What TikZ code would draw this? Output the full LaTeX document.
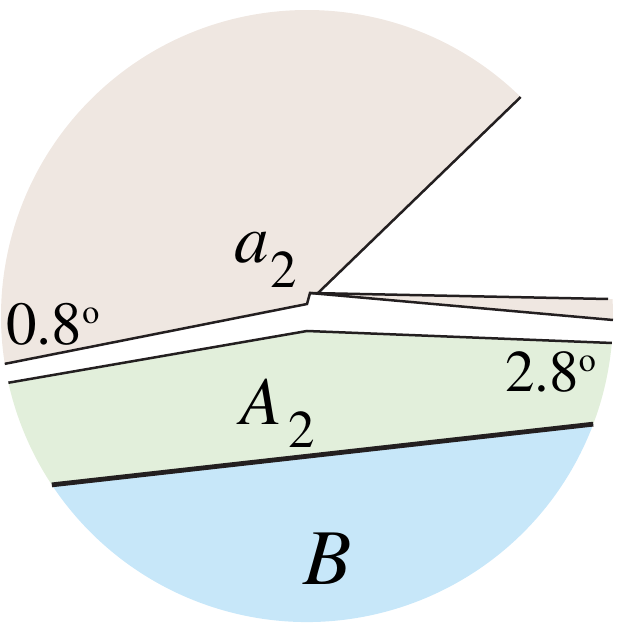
\documentclass[tikz,border=0pt]{standalone}
\usepackage[T1]{fontenc}
\renewcommand{\rmdefault}{ptm}
\definecolor{beigef}{RGB}{239,231,225}
\definecolor{greenf}{RGB}{226,239,219}
\definecolor{bluef}{RGB}{199,231,249}
\definecolor{linec}{RGB}{35,31,32}
\tikzset{
  thinline/.style={draw=linec, line width=2.5pt},
  boldline/.style={draw=linec, line width=4.8pt},
  lbl/.style={inner sep=0pt, anchor=base west, text=black},
}
\newcommand{\degsup}[1]{\raisebox{#1}{\fontsize{34}{34}\selectfont o}}
\begin{document}
\begin{tikzpicture}[x=1pt,y=1pt]
\useasboundingbox (0,0) rectangle (623,623);
% key points (circle centre (307,307), radius 306)
\coordinate (D)  at ([shift={(307,307)}]45.7:306);
\coordinate (L1) at ([shift={(307,307)}]189:306);
\coordinate (V1) at (307,319);
\coordinate (S)  at (310,330);
\coordinate (X)  at (318,330);
\coordinate (U)  at (608,324);
\coordinate (Uc) at ([shift={(307,307)}]3.17:306);
\coordinate (Lo) at ([shift={(307,307)}]-0.75:306);
\coordinate (G1) at ([shift={(307,307)}]192.6:306);
\coordinate (GV) at (307,292);
\coordinate (G2) at ([shift={(307,307)}]-5.06:306);
\coordinate (Br) at ([shift={(307,307)}]-20.7:306);
\coordinate (Bl) at ([shift={(307,307)}]213.5:306);
% fills
\fill[beigef] (L1) -- (V1) -- (S) -- (X) -- (D) arc[start angle=45.7, end angle=189, radius=306] -- cycle;
\fill[beigef] (S) -- (Uc) arc[start angle=3.17, end angle=-0.75, radius=306] -- cycle;
\fill[greenf] (G1) -- (GV) -- (G2) arc[start angle=-5.06, end angle=-20.7, radius=306] -- (Bl) arc[start angle=213.5, end angle=192.6, radius=306] -- cycle;
\fill[bluef] (Bl) -- (Br) arc[start angle=-20.7, end angle=-146.5, radius=306] -- cycle;
% lines
\draw[thinline, line join=miter] (L1) -- (V1) -- (S) -- (U);
\draw[thinline] (X) -- (D);
\draw[thinline] (S) -- (Lo);
\draw[thinline, line join=miter] (G1) -- (GV) -- (G2);
\draw[boldline] (Bl) -- (Br);
% labels
\node[lbl] (la) at (234,360) {\fontsize{69}{69}\selectfont\textit{a}\kern2pt\raisebox{-25pt}{\fontsize{53}{53}\selectfont 2}};
\node[lbl] (lA) at (240,198) {\fontsize{68}{68}\selectfont\textit{A}\kern7pt\raisebox{-23pt}{\fontsize{53}{53}\selectfont 2}};
\node[lbl] (lB) at (303,38) {\fontsize{79}{79}\selectfont\textit{B}};
\node[lbl] (l08) at (6,278) {\fontsize{61}{61}\selectfont 0.8\degsup{21pt}};
\node[lbl] (l28) at (505,231) {\fontsize{59}{59}\selectfont 2.8\degsup{20pt}};
\end{tikzpicture}
\end{document}
